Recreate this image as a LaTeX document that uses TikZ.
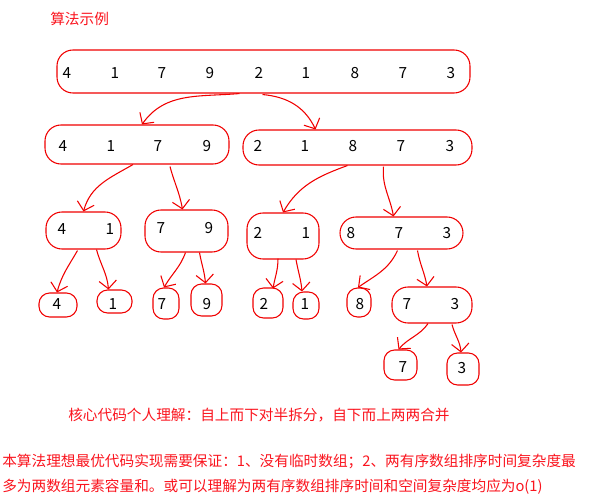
\documentclass[tikz,border=0pt]{standalone}
\usepackage{fontspec}
\setmainfont{Noto Sans CJK SC}
\usetikzlibrary{arrows.meta,calc}

\definecolor{ink}{RGB}{240,0,0}
\definecolor{note}{RGB}{250,20,30}

\tikzset{
  grp/.style={draw=ink, line width=0.8pt, rounded corners=12pt, inner sep=0pt},
  leaf/.style={grp, rounded corners=8pt},
  num/.style={inner sep=0pt, font=\fontsize{11.5}{13}\selectfont, text=black},
  link/.style={draw=ink, line width=0.8pt, line join=round,
    -{Straight Barb[length=6pt,width=13pt,line width=0.8pt]}},
  caption/.style={inner sep=0pt, anchor=west, text=note,
    font=\fontsize{11}{13}\selectfont}
}

% a group box: style, name, x1, y1, x2, y2 (pixel-like units, y downward)
\newcommand{\grpbox}[6][grp]{%
  \node[#1, minimum width={(#5-#3)*0.75pt}, minimum height={(#6-#4)*0.75pt}]
    (#2) at ({(#3+#5)/2},{(#4+#6)/2}) {};}

\begin{document}
\begin{tikzpicture}[x=0.75pt,y=-0.75pt]
\useasboundingbox (0,0) rectangle (597,504);

\node[caption] (title) at (50,19) {算法示例};

% ---- boxes ----
\grpbox{top}{57}{50}{470}{93}
\grpbox{L}{45}{125}{229}{164}
\grpbox{R}{243}{130}{472}{165}
\grpbox{LL}{46}{212}{121}{249}
\grpbox{LR}{145}{210}{228}{252}
\grpbox{RL}{247}{213}{319}{259}
\grpbox{RR}{340}{217}{463}{249}
\grpbox[leaf]{a4}{39}{293}{77}{317}
\grpbox[leaf]{a1}{97}{290}{132}{313}
\grpbox[leaf]{a7}{153}{288}{179}{319}
\grpbox[leaf]{a9}{191}{284}{222}{316}
\grpbox[leaf]{b2}{253}{288}{283}{318}
\grpbox[leaf]{b1}{293}{292}{319}{319}
\grpbox[leaf]{b8}{347}{288}{371}{317}
\grpbox{b73}{392}{287}{472}{323}
\grpbox[leaf]{c7}{384}{350}{417}{380}
\grpbox[leaf]{c3}{447}{353}{479}{385}

% ---- numbers ----
\foreach \x/\d [count=\i] in {67/4,115/1,162/7,210/9,259/2,306/1,355/8,403/7,451/3}
  \node[num] (t\i) at (\x,73) {\d};
\foreach \x/\d [count=\i] in {63/4,111/1,158/7,207/9}
  \node[num] (l\i) at (\x,146) {\d};
\foreach \x/\d [count=\i] in {258/2,305/1,353/8,401/7,450/3}
  \node[num] (r\i) at (\x,146) {\d};
\foreach \x/\d [count=\i] in {62/4,110/1}
  \node[num] (ll\i) at (\x,229) {\d};
\foreach \x/\d [count=\i] in {161/7,209/9}
  \node[num] (lr\i) at (\x,228) {\d};
\foreach \x/\d [count=\i] in {258/2,306/1}
  \node[num] (rl\i) at (\x,233) {\d};
\foreach \x/\d [count=\i] in {351/8,399/7,447/3}
  \node[num] (rr\i) at (\x,233) {\d};
\foreach \x/\d/\n in {57/4/na4,113/1/na1,162/7/na7,207/9/na9,264/2/nb2,305/1/nb1,360/8/nb8,407/7/nb7,455/3/nb3}
  \node[num] (\n) at (\x,304) {\d};
\node[num] (nc7) at (403,367) {7};
\node[num] (nc3) at (462,368) {3};

% ---- split arrows ----
\draw[link] ($(top.south)+(-24,0)$) to[out=185,in=55] ($(L.north)+(5,0)$);
\draw[link] ($(top.south)+(-1,1)$) to[out=-5,in=115] ($(R.north)+(-42,0)$);

\draw[link] ($(L.south)+(-4,0)$) to[out=210,in=75] ($(LL.north)+(0,0)$);
\draw[link] ($(L.south)+(33,2)$) to[out=-75,in=100] ($(LR.north)+(-4,0)$);
\draw[link] ($(R.south)+(-10,0)$) to[out=200,in=60] ($(RL.north)+(0,0)$);
\draw[link] ($(R.south)+(26,1)$) to[out=-95,in=100] ($(RR.north)+(-8,0)$);

\draw[link] ($(LL.south)+(-6,1)$) to[out=-120,in=75] ($(a4.north)+(-1,0)$);
\draw[link] ($(LL.south)+(13,0)$) to[out=-75,in=95] ($(a1.north)+(-6,0)$);
\draw[link] ($(LR.south)+(-1,0)$) to[out=-110,in=60] ($(a7.north)+(-2,0)$);
\draw[link] ($(LR.south)+(13,0)$) to[out=-80,in=95] ($(a9.north)+(-1,0)$);
\draw[link] ($(RL.south)+(-5,-1)$) to[out=-90,in=80] ($(b2.north)+(5,1)$);
\draw[link] ($(RL.south)+(13,0)$) to[out=-80,in=95] ($(b1.north)+(-4,0)$);
\draw[link] ($(RR.south)+(-4,1)$) to[out=-115,in=35] ($(b8.north)+(-1,0)$);
\draw[link] ($(RR.south)+(16,1)$) to[out=-80,in=100] ($(b73.north)+(-5,0)$);
\draw[link] ($(b73.south)+(-4,0)$) to[out=-125,in=50] ($(c7.north)+(-2,0)$);
\draw[link] ($(b73.south)+(20,1)$) to[out=-75,in=95] ($(c3.north)+(-2,0)$);

% ---- notes ----
\node[caption] (core) at (68,415) {核心代码个人理解：自上而下对半拆分，自下而上两两合并};
\node[caption] (req1) at (2,461) {本算法理想最优代码实现需要保证：1、没有临时数组；2、两有序数组排序时间复杂度最};
\node[caption] (req2) at (2,487) {多为两数组元素容量和。或可以理解为两有序数组排序时间和空间复杂度均应为o(1)};
\end{tikzpicture}
\end{document}
